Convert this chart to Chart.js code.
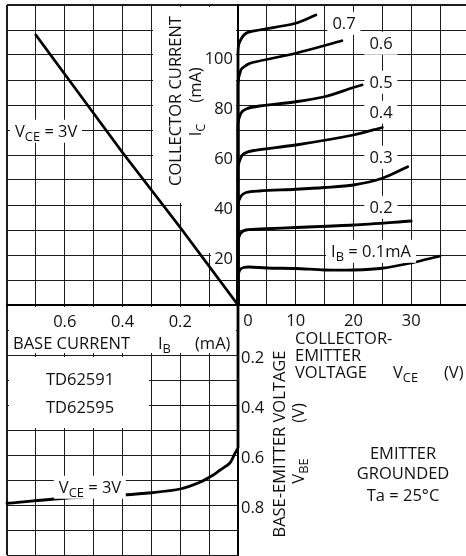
<!DOCTYPE html>
<html>
<head>
<meta charset="utf-8">
<script src="https://cdn.jsdelivr.net/npm/chart.js@4.4.1/dist/chart.umd.min.js"></script>
<style>
  html, body { margin: 0; padding: 0; background: #fff; }
  #wrap { position: relative; width: 466px; height: 556px; overflow: hidden;
          font-family: 'Open Sans', sans-serif; font-size: 16.5px; color: #111; }
  #under { position: absolute; left: 0; top: 0; width: 466px; height: 556px; z-index: 0; }
  #under div { position: absolute; }
  #wrap canvas { position: absolute; left: 0; top: 0; z-index: 2; }
  .t { position: absolute; white-space: nowrap; line-height: 1; z-index: 3; }
  .bg { background: #fff; padding: 3px 5px; }
  .t sub { font-size: 0.78em; vertical-align: -0.35em; line-height: 0; }
</style>
</head>
<body>
<div id="wrap">
  <div id="under"></div>
  <canvas id="cUL" width="466" height="556"></canvas>
  <canvas id="cUR" width="466" height="556"></canvas>
  <canvas id="cLL" width="466" height="556"></canvas>
</div>
<script>
// upper left: IC vs IB, VCE = 3V
const ulIb = [0, 0.2, 0.4, 0.7];
const ulIc = [0, 31, 61, 108];

// upper right: IC vs VCE, one curve per IB
const vce01 = [0, 0, 0.3, 1, 2, 5, 10, 15, 20, 25, 30, 35];
const ic01  = [0, 11, 14, 15, 15.2, 14.8, 14.6, 14, 14, 14.7, 16.8, 19.6];
const vce02 = [0, 0, 0.4, 1.4, 5, 10, 20, 30];
const ic02  = [0, 25, 28.5, 30, 30.5, 31, 32, 33.6];
const vce03 = [0, 0, 0.5, 1.4, 3.7, 10, 15, 20, 25, 29.4];
const ic03  = [0, 40, 43.5, 45, 45.6, 46.3, 47, 48, 50.7, 55.3];
const vce04 = [0, 0, 0.5, 1, 2.5, 10, 20, 25];
const ic04  = [0, 55, 59, 60.5, 61.7, 64, 68, 71];
const vce05 = [0, 0, 0.5, 1.5, 3.7, 10, 15, 20, 21.5];
const ic05  = [0, 72, 76.7, 78.5, 79.6, 81.3, 83.3, 87, 88];
const vce06 = [0, 0, 0.5, 1.5, 2.5, 10, 18];
const ic06  = [0, 88, 94, 96, 97, 100.7, 105.7];
const vce07 = [0, 0, 0.2, 1.4, 3.7, 10, 13.5];
const ic07  = [0, 100, 104.7, 108.7, 110, 112.7, 116];

// lower left: VBE vs IB, VCE = 3V
const llIb  = [0, 0, 0.01, 0.028, 0.062, 0.086, 0.13, 0.2, 0.3, 0.4, 0.6, 0.8];
const llVbe = [0, 0.57, 0.592, 0.632, 0.66, 0.68, 0.708, 0.736, 0.751, 0.76, 0.773, 0.793];

// tick labels
const icTicks  = [20, 40, 60, 80, 100];
const ibTicks  = [0.6, 0.4, 0.2];
const vceTicks = [0, 10, 20, 30];
const vbeTicks = [0.2, 0.4, 0.6, 0.8];
const curveLabels = ['0.7', '0.6', '0.5', '0.4', '0.3', '0.2', 'I<sub>B</sub> = 0.1mA'];

const pts = (xs, ys) => xs.map((x, i) => ({ x, y: ys[i] }));
const near = (a, b) => Math.abs(a - b) < 1e-6;

function axis(g, extra) {
  return Object.assign({
    type: 'linear', min: g.min, max: g.max, position: g.pos,
    ticks: { display: false },
    grid: { drawTicks: false, color: 'rgba(0,0,0,0)' },
    border: { display: true, color: '#000', width: 2 }
  }, extra || {});
}

function quadrant(id, datasets, gx, gy, padding, xExtra, yExtra) {
  return new Chart(document.getElementById(id), {
    type: 'scatter',
    data: { datasets },
    options: {
      responsive: false,
      animation: false,
      devicePixelRatio: 1,
      layout: { padding },
      plugins: { legend: { display: false }, tooltip: { enabled: false } },
      elements: {
        point: { radius: 0 },
        line: { borderColor: '#000', borderWidth: 2.8, tension: 0.3, borderCapStyle: 'round' }
      },
      scales: { x: axis(gx, xExtra), y: axis(gy, yExtra) }
    }
  });
}

const line = (data, tension) => ({ data, showLine: true, clip: 4, ...(tension !== undefined ? { tension } : {}) });

const gUL = { x: { min: 0, max: 0.8, step: 0.1, pos: 'bottom', thick: [0.8] },
              y: { min: 0, max: 120, step: 10, pos: 'right', thick: [120] } };
const gUR = { x: { min: 0, max: 39.5, step: 5, pos: 'bottom', thick: [] },
              y: { min: 0, max: 120, step: 10, pos: 'left', thick: [120] } };
const gLL = { x: { min: 0, max: 0.8, step: 0.1, pos: 'top', thick: [0.8] },
              y: { min: 0, max: 1.0, step: 0.1, pos: 'right', thick: [] } };

const chartUL = quadrant('cUL',
  [line(pts(ulIb, ulIc), 0)],
  gUL.x, gUL.y, { left: 7, top: 5, right: 228, bottom: 251 }, { reverse: true });

const chartUR = quadrant('cUR',
  [
    line(pts(vce01, ic01)), line(pts(vce02, ic02)), line(pts(vce03, ic03)),
    line(pts(vce04, ic04)), line(pts(vce05, ic05)), line(pts(vce06, ic06)),
    line(pts(vce07, ic07))
  ],
  gUR.x, gUR.y, { left: 238, top: 5, right: 0, bottom: 251 });

const chartLL = quadrant('cLL',
  [line(pts(llIb, llVbe), 0.25)],
  gLL.x, gLL.y, { left: 7, top: 305, right: 228, bottom: 1 }, { reverse: true }, { reverse: true });

// ---- grid under the transparent canvases, one line per step through each chart's scales ----
const under = document.getElementById('under');
function box(l, t, w, h, bg) {
  const d = document.createElement('div');
  d.style.left = l + 'px'; d.style.top = t + 'px';
  d.style.width = w + 'px'; d.style.height = h + 'px';
  d.style.background = bg;
  under.appendChild(d);
}
function grid(chart, g, rects) {
  const a = chart.chartArea;
  ['x', 'y'].forEach(k => {
    const s = g[k], sc = chart.scales[k];
    for (let i = 0; s.min + i * s.step <= s.max + 1e-9; i++) {
      const v = s.min + i * s.step;
      const w = s.thick.some(t => near(t, v)) ? 2 : 1;
      const p = Math.round(sc.getPixelForValue(v) - w / 2);
      if (k === 'x') box(p, a.top, w, a.bottom - a.top, '#1c1c1c');
      else box(a.left, p, a.right - a.left, w, '#1c1c1c');
    }
  });
  // white label areas
  rects.forEach(r => {
    const xa = chart.scales.x.getPixelForValue(r.x[0]), xb = chart.scales.x.getPixelForValue(r.x[1]);
    const ya = chart.scales.y.getPixelForValue(r.y[0]), yb = chart.scales.y.getPixelForValue(r.y[1]);
    const gap = s => (r.open || '').includes(s) ? -2 : 2;
    const l = Math.round(Math.min(xa, xb) + gap('l')), rr = Math.round(Math.max(xa, xb) - gap('r'));
    const t = Math.round(Math.min(ya, yb) + gap('t')), b = Math.round(Math.max(ya, yb) - gap('b'));
    box(l, t, rr - l, b - t, '#fff');
  });
}
grid(chartUL, gUL, [
  { x: [0, 0.3], y: [40, 120] },
  { x: [0, 0.2], y: [20, 40], open: 't' },
  { x: [0, 0.1], y: [10, 20], open: 't' }
]);
grid(chartUR, gUR, []);
grid(chartLL, gLL, [
  { x: [0, 0.8], y: [0, 0.2] },
  { x: [0.3, 0.8], y: [0.2, 0.5] }
]);

// ---- text ----
const wrap = document.getElementById('wrap');
function label(html, x, y, anchor, cls) {
  const d = document.createElement('div');
  d.className = 't ' + (cls || '');
  d.innerHTML = html;
  d.style.left = x + 'px';
  d.style.top = y + 'px';
  const tx = anchor === 'l' ? '0' : anchor === 'r' ? '-100%' : '-50%';
  d.style.transform = `translate(${tx}, -50%)`;
  wrap.appendChild(d);
  return d;
}
function vlabel(html, x, y) {
  const d = label(html, x, y);
  d.style.transform = 'translate(-50%, -50%) rotate(-90deg)';
  return d;
}

// axis numbers placed with the charts' own scales
icTicks.forEach(v => label(String(v), 233, chartUL.scales.y.getPixelForValue(v) + 3, 'r'));
ibTicks.forEach(v => label(v.toFixed(1), chartLL.scales.x.getPixelForValue(v), 321));
vceTicks.forEach(v => label(String(v), chartUR.scales.x.getPixelForValue(v) + (v === 0 ? 10 : 0), 320));
vbeTicks.forEach(v => label(v.toFixed(1), 241, chartLL.scales.y.getPixelForValue(v) + 2, 'l'));

// curve labels (upper right)
const curveLabelPos = [[344, 23], [381, 43], [381, 82], [381, 112], [381, 157], [381, 207], [371, 251]];
curveLabels.forEach((t, i) => label(t, curveLabelPos[i][0], curveLabelPos[i][1], 'c', 'bg'));

// upper left
label('V<sub>CE</sub> = 3V', 10, 131, 'l', 'bg');
vlabel('COLLECTOR CURRENT', 175, 101);
vlabel('(mA)', 195, 85);
vlabel('I<sub>C</sub>', 195, 130);

// lower left
label('BASE CURRENT', 13, 343, 'l');
label('I<sub>B</sub>', 158, 343, 'l');
label('(mA)', 195, 343, 'l');
label('TD62591', 80, 379);
label('TD62595', 80, 407);
label('V<sub>CE</sub> = 3V', 90, 487, 'c', 'bg');

// lower right
label('COLLECTOR-', 295, 338, 'l');
label('EMITTER', 295, 355, 'l');
label('VOLTAGE', 295, 372, 'l');
label('V<sub>CE</sub>', 393, 372, 'l');
label('(V)', 444, 372, 'l');
vlabel('BASE-EMITTER VOLTAGE', 279, 444);
vlabel('(V)', 298, 413);
vlabel('V<sub>BE</sub>', 298, 471);
label('EMITTER', 403, 453);
label('GROUNDED', 403, 473);
label('Ta = 25°C', 403, 495);
</script>
</body>
</html>
